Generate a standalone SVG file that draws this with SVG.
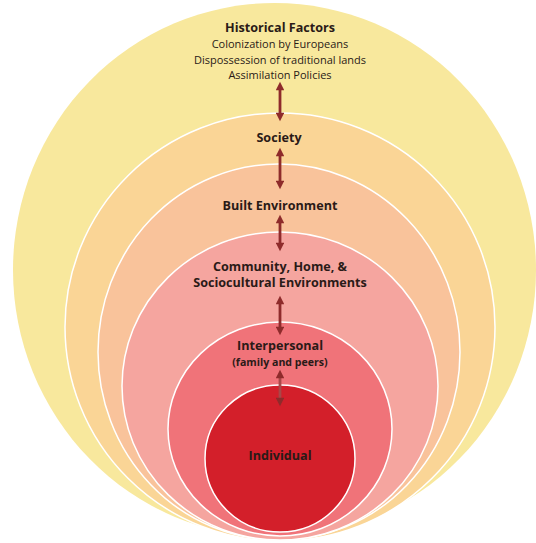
<svg xmlns="http://www.w3.org/2000/svg" width="536" height="543" viewBox="0 0 536 543">
<style>
.ring{stroke:#ffffff;stroke-width:1.5}
text{font-family:"Open Sans","Noto Sans","Liberation Sans",sans-serif;fill:#2a1a17;text-anchor:middle}
.b{font-weight:bold;font-size:12.6px}
.r{font-size:11px}
.s{font-weight:bold;font-size:10.6px}
.arr{stroke:#8e2b2b;stroke-width:2.8;fill:none;marker-start:url(#ah);marker-end:url(#ah)}
</style>
<defs>
<marker id="ah" viewBox="0 0 10 10" refX="5" refY="5" markerWidth="3.3" markerHeight="3" orient="auto-start-reverse" markerUnits="strokeWidth">
<path d="M0,0 L10,5 L0,10 Z" fill="#8e2b2b"/>
</marker>
</defs>
<rect width="536" height="543" fill="#ffffff"/>
<g id="historical">
<ellipse cx="274.5" cy="270" rx="261.5" ry="267" fill="#f8e89d"/>
<text class="b" x="280" y="32">Historical Factors</text>
<text class="r" x="280" y="48">Colonization by Europeans</text>
<text class="r" x="280" y="64">Dispossession of traditional lands</text>
<text class="r" x="280" y="79">Assimilation Policies</text>
</g>
<g id="society">
<ellipse class="ring" cx="280" cy="327" rx="215" ry="214" fill="#fad596"/>
<text class="b" x="279" y="142">Society</text>
</g>
<g id="built">
<ellipse class="ring" cx="279" cy="352" rx="181" ry="188" fill="#f9c39b"/>
<text class="b" x="280" y="210">Built Environment</text>
</g>
<g id="community">
<ellipse class="ring" cx="280" cy="386" rx="158" ry="154" fill="#f5a59f"/>
<text class="b" x="280" y="271">Community, Home, &amp;</text>
<text class="b" x="280" y="287">Sociocultural Environments</text>
</g>
<g id="interpersonal">
<ellipse class="ring" cx="280" cy="429" rx="112" ry="107" fill="#f07379"/>
<text class="b" x="280" y="350">Interpersonal</text>
<text class="s" x="280" y="366">(family and peers)</text>
</g>
<g id="individual">
<ellipse class="ring" cx="280" cy="458.5" rx="75" ry="73.5" fill="#d31f2a"/>
<text class="b" x="280" y="460">Individual</text>
</g>
<g id="connectors">
<line class="arr" x1="280" y1="86" x2="280" y2="117"/>
<line class="arr" x1="280" y1="152" x2="280" y2="185"/>
<line class="arr" x1="280" y1="219" x2="280" y2="247"/>
<line class="arr" x1="280" y1="300" x2="280" y2="331"/>
<line class="arr" x1="280" y1="374" x2="280" y2="402" style="stroke:#a84848"/>
</g>
</svg>
